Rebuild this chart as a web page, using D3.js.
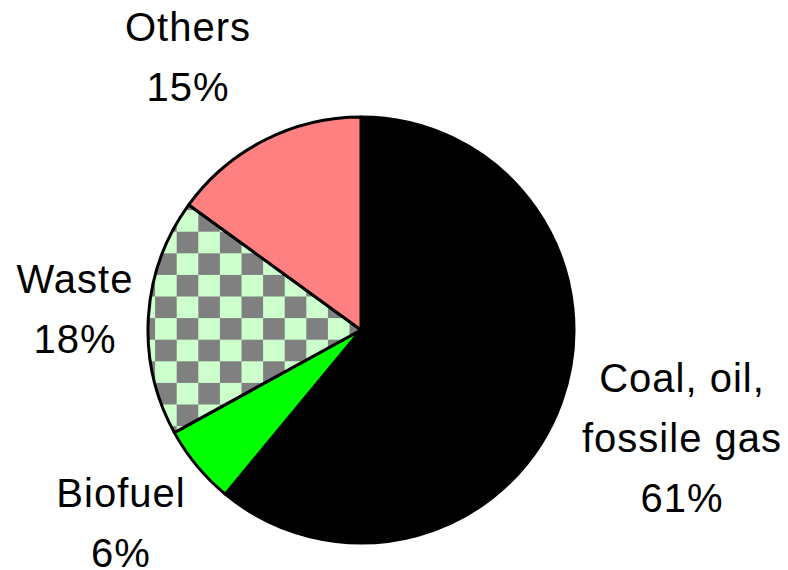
<!DOCTYPE html>
<html>
<head>
<meta charset="utf-8">
<script src="https://cdn.jsdelivr.net/npm/d3@7"></script>
<style>
  html, body { margin: 0; padding: 0; background: #ffffff; }
  svg { display: block; }
</style>
</head>
<body>
<svg id="chart" width="788" height="570"></svg>
<script>
const categories = ["Coal, oil,|fossile gas", "Biofuel", "Waste", "Others"];
const shares = [61, 6, 18, 15];

const width = 788, height = 570;
const cx = 361, cy = 330, radius = 213;

// label anchor (x center, first baseline) for each slice, in the same order
const labelPos = [
    { x: 682, y: 392 },
    { x: 121, y: 507 },
    { x: 75, y: 293 },
    { x: 188, y: 41 }
];
const lineGap = 60;
const cell = 21.6; // checker square size

const svg = d3.select("#chart");

const defs = svg.append("defs");
const checker = defs.append("pattern")
    .attr("id", "checker")
    .attr("patternUnits", "userSpaceOnUse")
    .attr("patternContentUnits", "userSpaceOnUse")
    .attr("x", 176.7 - cx)
    .attr("y", 231.7 - cy)
    .attr("width", cell * 2)
    .attr("height", cell * 2);
checker.append("rect").attr("width", cell * 2).attr("height", cell * 2).attr("fill", "#ccffcc");
checker.append("rect").attr("width", cell).attr("height", cell).attr("fill", "#808080");
checker.append("rect").attr("x", cell).attr("y", cell).attr("width", cell).attr("height", cell).attr("fill", "#808080");

const fills = ["#000000", "#00ff00", "url(#checker)", "#ff8080"];

const pie = d3.pie()
    .sort(null)
    .value(d => d);

const arc = d3.arc()
    .innerRadius(0)
    .outerRadius(radius);

const g = svg.append("g")
    .attr("transform", `translate(${cx},${cy})`);

g.selectAll("path")
    .data(pie(shares))
    .enter()
    .append("path")
    .attr("d", arc)
    .attr("fill", (d, i) => fills[i])
    .attr("stroke", "#000000")
    .attr("stroke-width", 3)
    .attr("stroke-linejoin", "round");

const labels = svg.selectAll(".slice-label")
    .data(categories)
    .enter()
    .append("text")
    .attr("class", "slice-label")
    .attr("text-anchor", "middle")
    .style("font-family", "'Liberation Sans', Arial, sans-serif")
    .style("font-size", "40px")
    .style("letter-spacing", "1px")
    .attr("fill", "#000000");

labels.each(function (d, i) {
    const lines = d.split("|").concat([shares[i] + "%"]);
    const t = d3.select(this);
    lines.forEach((line, k) => {
        t.append("tspan")
            .attr("x", labelPos[i].x)
            .attr("y", labelPos[i].y + k * lineGap)
            .text(line);
    });
});
</script>
</body>
</html>
